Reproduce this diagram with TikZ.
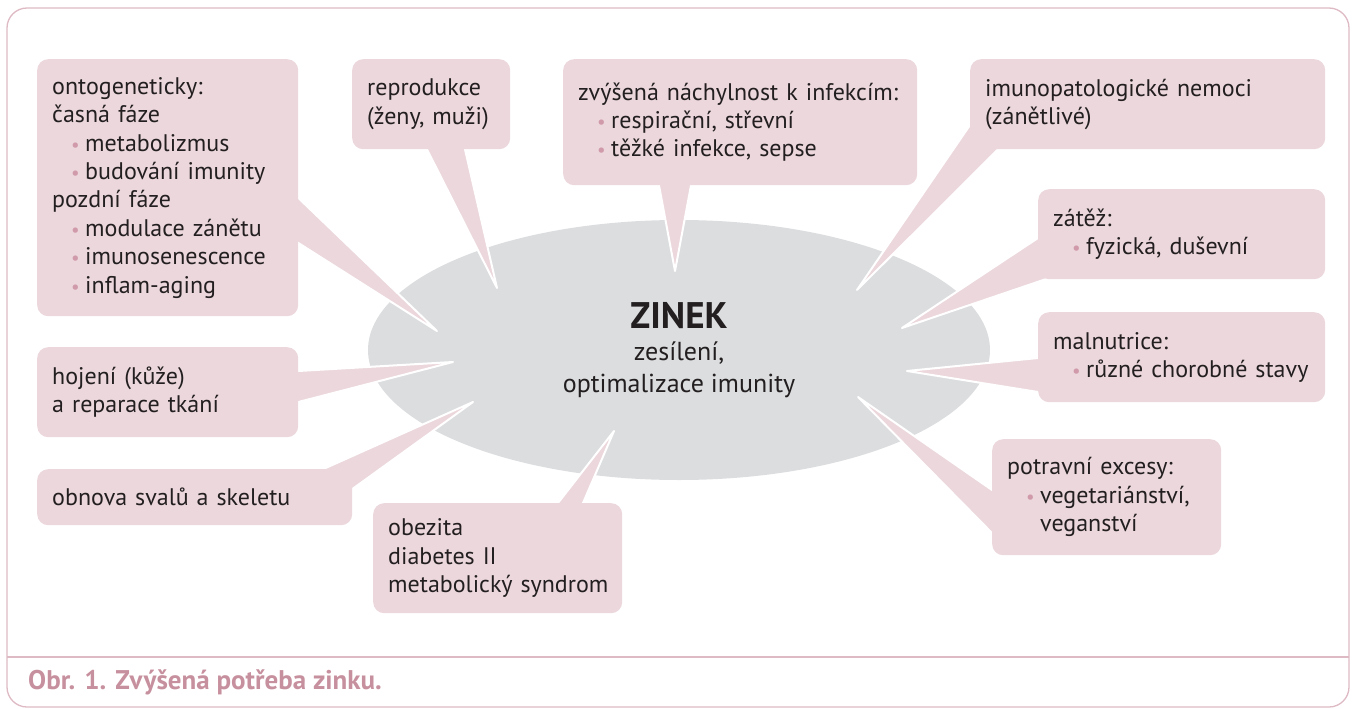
\documentclass[tikz,border=0pt]{standalone}
\usepackage{fontspec}
\setmainfont{PT Sans}
\usetikzlibrary{shapes.geometric,calc,backgrounds}

\definecolor{boxpink}{RGB}{235,215,220}
\definecolor{zincgray}{RGB}{220,221,223}
\definecolor{framepink}{RGB}{222,186,196}
\definecolor{captionpink}{RGB}{199,144,158}
\definecolor{dotpink}{RGB}{208,154,170}
\definecolor{ink}{RGB}{35,31,32}

% text of the boxes, with tighter word spaces
\newcommand\boxfont{\fontsize{24}{28.4}\selectfont\spaceskip=4.8pt plus 1pt\relax}
% pink dot in front of an item, and the indent of its next line
\newcommand\bul{\hspace*{19pt}\makebox[14pt][l]{\textcolor{dotpink}{\fontsize{19}{19}\selectfont\textbullet}}}
\newcommand\ind{\hspace*{33pt}}
% pointer from two points on a box edge to the tip, started a bit inside the box
\newcommand\spike[3]{\filldraw[spikefill] ($(#1)!1.08!(#2)$) -- (#1) -- ($(#1)!1.08!(#3)$) -- cycle;}

\begin{document}
\begin{tikzpicture}[x=1pt, y=-1pt, font=\boxfont,
  factor/.style={fill=boxpink, rounded corners=11pt, anchor=north west, align=left,
    inner xsep=15pt, inner ysep=0pt, text=ink},
  spikefill/.style={fill=boxpink, draw=white, line width=2pt, line join=round}]
  \useasboundingbox (0,0) rectangle (1352,709);
  % frame and caption strip
  \draw[framepink, line width=1.3pt, rounded corners=20pt] (7,8) rectangle (1349,707);
  \draw[framepink, line width=1.3pt] (7,657) -- (1349,657);
  \node[anchor=base west, inner sep=0pt, text=captionpink, font=\fontsize{27}{30}\selectfont\bfseries] (cap) at (28,689) {Obr. 1. Zvýšená potřeba zinku.};

  % centre
  \begin{pgfonlayer}{background}
    \node[ellipse, fill=zincgray, minimum width=622pt, minimum height=260pt, align=center, text=ink,
      font=\fontsize{26}{32}\selectfont] (zinc) at (679,350)
      {{\fontsize{37}{32}\selectfont\bfseries ZINEK}\\zesílení,\\optimalizace imunity};
  \end{pgfonlayer}
  \coordinate (t-onto) at (437,331);
  \coordinate (t-repro) at (497,288);
  \coordinate (t-infekce) at (675,271);
  \coordinate (t-imuno) at (857,290);
  \coordinate (t-zatez) at (902,328);
  \coordinate (t-maln) at (907,371);
  \coordinate (t-potrava) at (858,397);
  \coordinate (t-obezita) at (614,431);
  \coordinate (t-hojeni) at (453,362);
  \coordinate (t-obnova) at (473,402);

  % boxes
  \node[factor, text width=231pt, minimum height=257pt] (onto) at (37,59)
    {ontogeneticky:\\časná fáze\\\bul metabolizmus\\\bul budování imunity\\pozdní fáze\\
     \bul modulace zánětu\\\bul imunosenescence\\\bul inflam-aging};
  \node[factor, text width=128pt, minimum height=90pt] (repro) at (352,59)
    {reprodukce\\\mbox{(ženy, muži)}};
  \node[factor, text width=324pt, minimum height=126pt] (infekce) at (563,59)
    {zvýšená náchylnost k infekcím:\\\bul respirační, střevní\\\bul těžké infekce, sepse};
  \node[factor, text width=325pt, minimum height=90pt] (imuno) at (970,59)
    {imunopatologické nemoci\\(zánětlivé)};
  \node[factor, text width=257pt, minimum height=90pt] (zatez) at (1038,189)
    {zátěž:\\\bul fyzická, duševní};
  \node[factor, text width=257pt, minimum height=90pt] (maln) at (1038,312)
    {malnutrice:\\\bul \mbox{různé chorobné stavy}};
  \node[factor, text width=199pt, minimum height=116pt] (potrava) at (992,439)
    {potravní excesy:\\\bul vegetariánství,\\\ind veganství};
  \node[factor, text width=219pt, minimum height=110pt] (obezita) at (373,503)
    {obezita\\diabetes II\\\mbox{metabolický syndrom}};
  \node[factor, text width=231pt, minimum height=90pt] (hojeni) at (37,347)
    {hojení (kůže)\\a reparace tkání};
  \node[factor, text width=285pt, minimum height=56pt] (obnova) at (37,469)
    {obnova svalů a skeletu};

  % pointers, under the boxes and over the ellipse
  \begin{pgfonlayer}{background}
    \spike{t-onto}{[shift={(0,139)}]onto.north east}{[shift={(0,184)}]onto.north east}
    \spike{t-repro}{[shift={(75,0)}]repro.south west}{[shift={(113,0)}]repro.south west}
    \spike{t-infekce}{[shift={(96,0)}]infekce.south west}{[shift={(128,0)}]infekce.south west}
    \spike{t-imuno}{[shift={(0,66)}]imuno.north west}{[shift={(28,0)}]imuno.south west}
    \spike{t-zatez}{[shift={(0,49)}]zatez.north west}{[shift={(7,0)}]zatez.south west}
    \spike{t-maln}{[shift={(0,46)}]maln.north west}{[shift={(0,80)}]maln.north west}
    \spike{t-potrava}{[shift={(0,51)}]potrava.north west}{[shift={(0,94)}]potrava.north west}
    \spike{t-obezita}{[shift={(185,0)}]obezita.north west}{[shift={(210,0)}]obezita.north west}
    \spike{t-hojeni}{[shift={(0,24)}]hojeni.north east}{[shift={(0,55)}]hojeni.north east}
    \spike{t-obnova}{[shift={(-29,0)}]obnova.north east}{[shift={(0,20)}]obnova.north east}
  \end{pgfonlayer}
\end{tikzpicture}
\end{document}
